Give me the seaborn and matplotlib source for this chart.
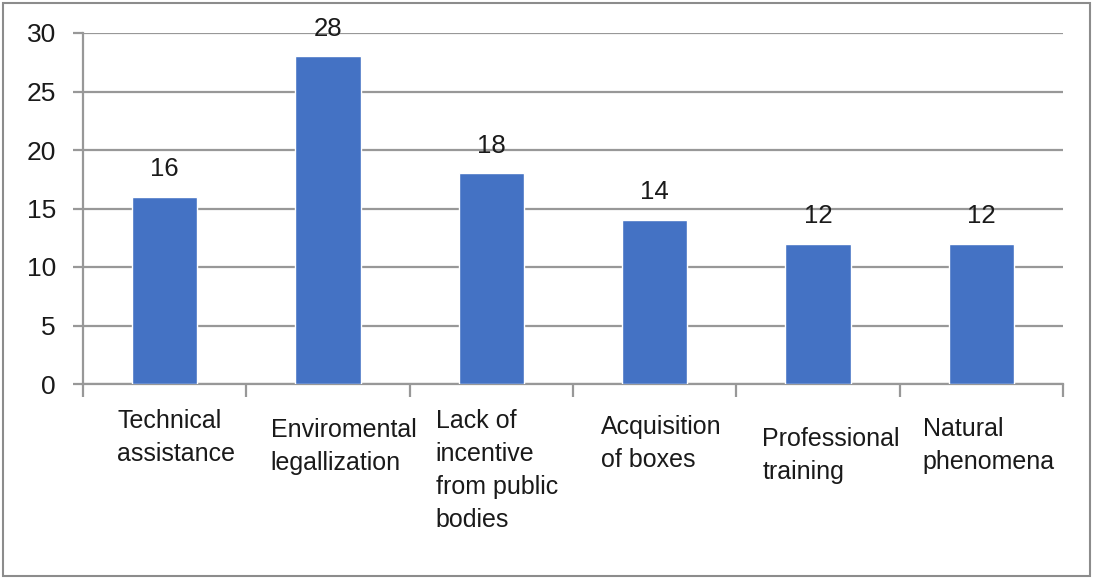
import matplotlib
matplotlib.use("Agg")
import matplotlib.pyplot as plt
import matplotlib.transforms as mtransforms
from matplotlib.patches import Rectangle
import numpy as np
import pandas as pd
import seaborn as sns

# Chart data
categories = [
    "Technical\nassistance",
    "Enviromental\nlegallization",
    "Lack of\nincentive\nfrom public\nbodies",
    "Acquisition\nof boxes",
    "Professional\ntraining",
    "Natural\nphenomena",
]
values = [16, 28, 18, 14, 12, 12]
y_ticks = [0, 5, 10, 15, 20, 25, 30]

# Label placement below the axis (x shift in category units, top in pixels below axis)
label_dx = [-0.29, -0.35, -0.34, -0.33, -0.34, -0.36]
label_drop_px = [25, 34, 25, 31, 43, 33]

sns.set_theme(style="white")
plt.rcParams["font.family"] = ["Liberation Sans", "DejaVu Sans"]

W, H, DPI = 1094, 579, 100
fig = plt.figure(figsize=(W / DPI, H / DPI), dpi=DPI)
fig.patch.set_facecolor("white")

ax_left, ax_right, ax_top, ax_bottom = 83, 1063, 33, 384
ax = fig.add_axes([ax_left / W, 1 - ax_bottom / H,
                   (ax_right - ax_left) / W, (ax_bottom - ax_top) / H])

df = pd.DataFrame({"category": categories, "value": values})
sns.barplot(data=df, x="category", y="value", color="#4472C4", width=0.4,
            saturation=1, ax=ax, zorder=3)

grid_color = "#989898"
text_color = "#1a1a1a"

ax.set_xlim(-0.5, len(categories) - 0.5)
ax.set_ylim(0, 30)
ax.set_yticks(y_ticks)
ax.set_yticklabels([str(t) for t in y_ticks], fontsize=19, color=text_color)
ax.yaxis.grid(True, color=grid_color, linewidth=1.6, zorder=0)
ax.set_axisbelow(True)
ax.tick_params(axis="y", which="major", length=7.5, width=1.6, color=grid_color,
               pad=12, left=True)

# Category boundary ticks on the x axis
ax.set_xticks(np.arange(len(categories)))
ax.set_xticklabels([""] * len(categories))
ax.tick_params(axis="x", which="major", length=0)
ax.set_xticks(np.arange(len(categories) + 1) - 0.5, minor=True)
ax.tick_params(axis="x", which="minor", length=9, width=1.6, color=grid_color,
               bottom=True)

for side in ["top", "right"]:
    ax.spines[side].set_visible(False)
for side in ["left", "bottom"]:
    ax.spines[side].set_color(grid_color)
    ax.spines[side].set_linewidth(1.6)

ax.set_xlabel("")
ax.set_ylabel("")

# Value labels above bars
for i, v in enumerate(values):
    ax.annotate(str(v), xy=(i, v), xytext=(0, 20), textcoords="offset points",
                ha="center", va="center", fontsize=18.5, color=text_color)

# Category labels, left aligned below the axis
blend = mtransforms.blended_transform_factory(ax.transData, ax.transAxes)
plot_h = ax_bottom - ax_top
for i, lab in enumerate(categories):
    ax.text(i + label_dx[i], -label_drop_px[i] / plot_h, lab, transform=blend,
            ha="left", va="top", fontsize=18, color=text_color,
            linespacing=1.48, clip_on=False)

# Outer chart frame
fig.patches.append(Rectangle((3 / W, 3 / H), (W - 7) / W, (H - 6) / H,
                             transform=fig.transFigure, fill=False,
                             edgecolor="#8c8c8c", linewidth=1.5))

fig.savefig("out.png", dpi=DPI)
